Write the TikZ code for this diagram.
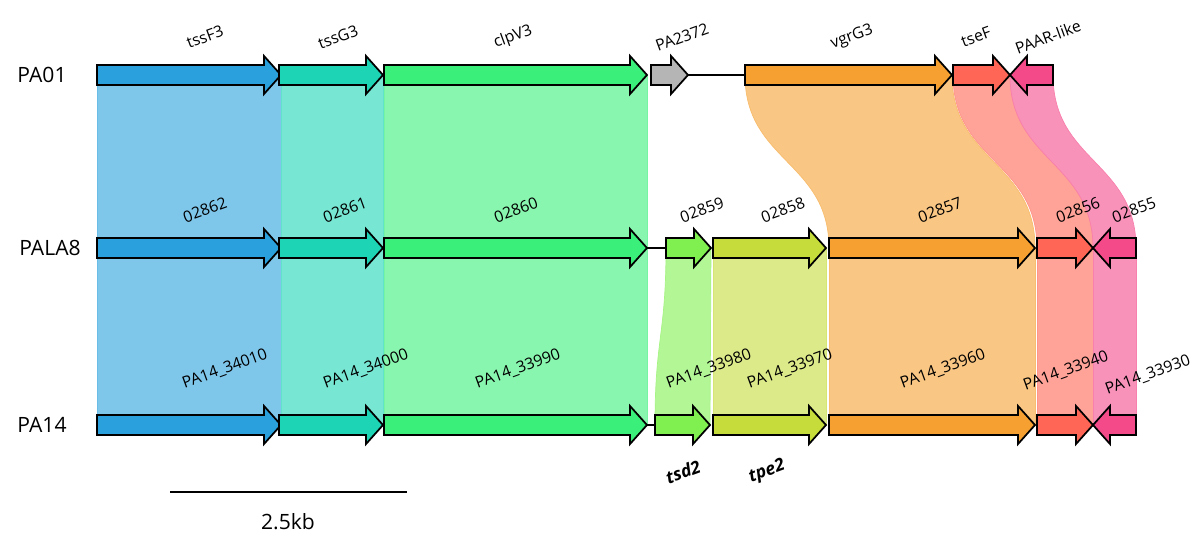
\documentclass[tikz,border=0pt]{standalone}
\usepackage{fontspec}
\setmainfont{Open Sans}
\usetikzlibrary{positioning}

\definecolor{cF}{HTML}{2AA0DD}
\definecolor{cG}{HTML}{1DD5B5}
\definecolor{cV}{HTML}{3AF07A}
\definecolor{cGray}{HTML}{B5B5B5}
\definecolor{cVgr}{HTML}{F5A030}
\definecolor{cTse}{HTML}{FF6655}
\definecolor{cPaar}{HTML}{F54A8A}
\definecolor{cTsd}{HTML}{80F050}
\definecolor{cTpe}{HTML}{C5DC3A}

% forward gene arrow: x1, x2, y, colour
\newcommand{\fgene}[4]{\draw[gene, fill=#4] (#1,#3-10) -- (#2-17,#3-10) -- (#2-17,#3-19) -- (#2,#3) -- (#2-17,#3+19) -- (#2-17,#3+10) -- (#1,#3+10) -- cycle;}
% reverse gene arrow: x1 (tip), x2, y, colour
\newcommand{\rgene}[4]{\draw[gene, fill=#4] (#2,#3-10) -- (#1+17,#3-10) -- (#1+17,#3-19) -- (#1,#3) -- (#1+17,#3+19) -- (#1+17,#3+10) -- (#2,#3+10) -- cycle;}
% homology ribbon: a, b, y1, c, d, y2, colour
\newcommand{\ribbon}[7]{\path[fill=#7!60!white, draw=#7!70!white, line width=0.4pt] (#1,#3) .. controls (#1,{(#3+#6)/2}) and (#4,{(#3+#6)/2}) .. (#4,#6) -- (#5,#6) .. controls (#5,{(#3+#6)/2}) and (#2,{(#3+#6)/2}) .. (#2,#3) -- cycle;}

\begin{document}
\begin{tikzpicture}[x=0.02cm, y=-0.02cm,
    gene/.style={draw=black, line width=1pt, line join=miter},
    lbl/.style={rotate=20, font=\small, inner sep=0pt},
    lblb/.style={rotate=20, font=\small, inner sep=0pt},
    strain/.style={font=\large, inner sep=0pt},
    backbone/.style={line width=1pt},
    locus/.style={rotate=20, font=\normalsize\bfseries\itshape, inner sep=0pt}
]
\useasboundingbox (0,0) rectangle (1200,554);

% ribbons PA01 -> PALA8
\ribbon{97}{281}{75}{97}{281}{248}{cF}
\ribbon{281}{383}{75}{281}{383}{248}{cG}
\ribbon{384}{647}{75}{384}{647}{248}{cV}
\ribbon{745}{952}{75}{829}{1035}{248}{cVgr}
\ribbon{953}{1010}{75}{1037}{1093}{248}{cTse}
\ribbon{1010}{1053}{75}{1093}{1136}{248}{cPaar}
% ribbons PALA8 -> PA14
\ribbon{97}{281}{248}{97}{281}{425}{cF}
\ribbon{281}{383}{248}{281}{383}{425}{cG}
\ribbon{384}{647}{248}{384}{647}{425}{cV}
\ribbon{666}{711}{248}{655}{710}{425}{cTsd}
\ribbon{713}{826}{248}{713}{826}{425}{cTpe}
\ribbon{829}{1035}{248}{829}{1035}{425}{cVgr}
\ribbon{1037}{1093}{248}{1037}{1093}{425}{cTse}
\ribbon{1093}{1136}{248}{1093}{1136}{425}{cPaar}

% backbones
\draw[backbone] (688,75) -- (745,75);
\draw[backbone] (647,248) -- (666,248);
\draw[backbone] (647,425) -- (655,425);

% PA01
\node[strain] (sA) at (42,75) {PA01};
\fgene{97}{281}{75}{cF}
\fgene{279}{383}{75}{cG}
\fgene{384}{647}{75}{cV}
\fgene{651}{688}{75}{cGray}
\fgene{745}{952}{75}{cVgr}
\fgene{953}{1010}{75}{cTse}
\rgene{1010}{1053}{75}{cPaar}
\node[lbl] (tssF) at (205,37) {tssF3};
\node[lbl] (tssG) at (338,37) {tssG3};
\node[lbl] (clpV) at (513,37) {clpV3};
\node[lbl] (pa2372) at (682,37) {PA2372};
\node[lbl] (vgrG) at (852,37) {vgrG3};
\node[lbl] (tseF) at (976,37) {tseF};
\node[lbl] (paar) at (1048,37) {PAAR-like};

% PALA8
\node[strain] (sB) at (50,248) {PALA8};
\fgene{97}{281}{248}{cF}
\fgene{279}{383}{248}{cG}
\fgene{384}{647}{248}{cV}
\fgene{666}{711}{248}{cTsd}
\fgene{713}{826}{248}{cTpe}
\fgene{829}{1035}{248}{cVgr}
\fgene{1037}{1093}{248}{cTse}
\rgene{1093}{1136}{248}{cPaar}
\node[lbl] (g62) at (205,210) {02862};
\node[lbl] (g61) at (345,210) {02861};
\node[lbl] (g60) at (516,210) {02860};
\node[lbl] (g59) at (702,210) {02859};
\node[lbl] (g58) at (783,210) {02858};
\node[lbl] (g57) at (940,210) {02857};
\node[lbl] (g56) at (1078,210) {02856};
\node[lbl] (g55) at (1134,210) {02855};

% PA14
\node[strain] (sC) at (42,425) {PA14};
\fgene{97}{281}{425}{cF}
\fgene{279}{383}{425}{cG}
\fgene{384}{647}{425}{cV}
\fgene{655}{710}{425}{cTsd}
\fgene{713}{826}{425}{cTpe}
\fgene{829}{1035}{425}{cVgr}
\fgene{1037}{1093}{425}{cTse}
\rgene{1093}{1136}{425}{cPaar}
\node[lblb] (p10) at (225,369) {PA14\_34010};
\node[lblb] (p00) at (366,369) {PA14\_34000};
\node[lblb] (p90) at (518,369) {PA14\_33990};
\node[lblb] (p80) at (709,369) {PA14\_33980};
\node[lblb] (p70) at (790,369) {PA14\_33970};
\node[lblb] (p60) at (943,369) {PA14\_33960};
\node[lblb] (p40) at (1066,371) {PA14\_33940};
\node[lblb] (p30) at (1148,375) {PA14\_33930};

% gene names
\node[locus] (tsd) at (683,472) {tsd2};
\node[locus] (tpe) at (767,472) {tpe2};

% scale bar
\coordinate (sL) at (170,492);
\coordinate (sR) at (407,492);
\draw[line width=0.8pt] (sL) -- (sR);
\node[font=\large] (kb) at (288,522) {2.5kb};
\end{tikzpicture}
\end{document}
